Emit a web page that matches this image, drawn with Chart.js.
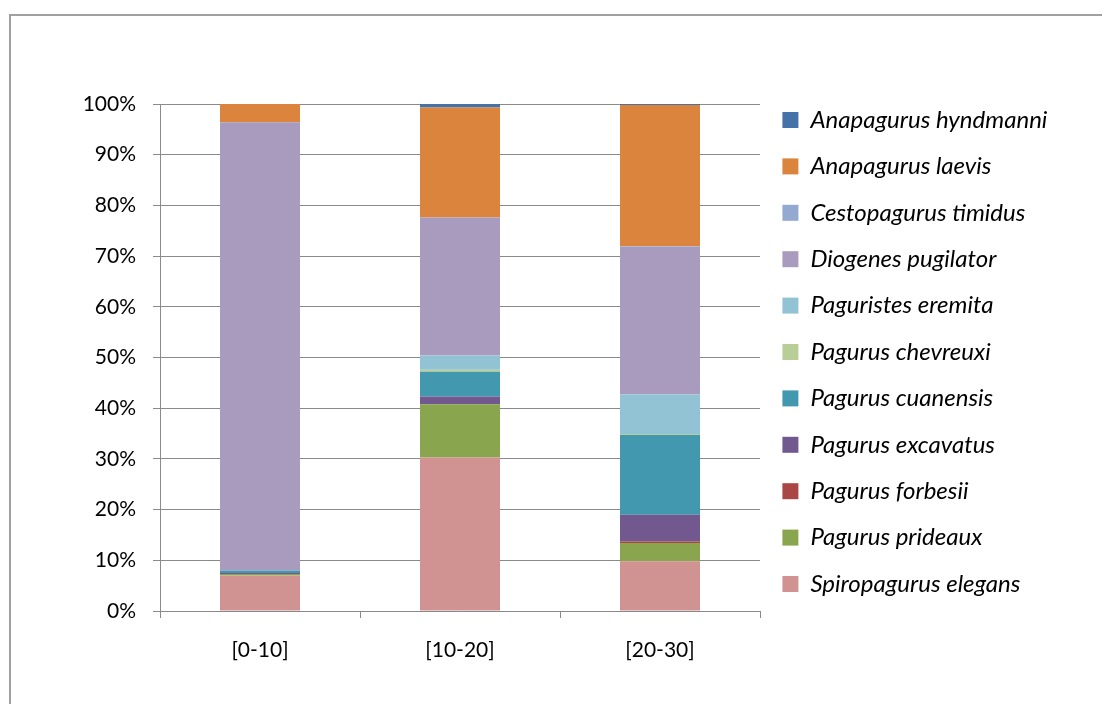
<!DOCTYPE html>
<html>
<head>
<meta charset="utf-8">
<script src="https://cdn.jsdelivr.net/npm/chart.js@4"></script>
<style>
  html, body { margin: 0; padding: 0; background: #fff; overflow: hidden; }
  #wrap { position: relative; width: 1102px; height: 704px; }
  #frame {
    position: absolute; left: 9px; top: 14px; width: 1200px; height: 800px;
    border-left: 2px solid #a0a0a0; border-top: 2px solid #a0a0a0;
    pointer-events: none;
  }
  canvas { position: absolute; left: 0; top: 0; }
</style>
</head>
<body>
<div id="wrap">
  <canvas id="chart" width="1102" height="704"></canvas>
  <div id="frame"></div>
</div>
<script>
// depth classes
const categories = ['[0-10]', '[10-20]', '[20-30]'];

// share of each species per class (%), bottom of stack first
const spiropagurusElegans = [7.0, 30.3, 9.8];
const pagurusPrideaux = [0.3, 10.5, 3.6];
const pagurusForbesii = [0, 0, 0.3];
const pagurusExcavatus = [0.2, 1.5, 5.3];
const pagurusCuanensis = [0.5, 4.9, 15.7];
const pagurusChevreuxi = [0, 0.4, 0.2];
const paguristesEremita = [0, 2.8, 7.8];
const diogenesPugilator = [88.4, 27.2, 29.2];
const cestopagurusTimidus = [0, 0, 0.1];
const anapagurusLaevis = [3.6, 21.7, 27.8];
const anapagurusHyndmanni = [0, 0.7, 0.2];

const yTicks = [0, 10, 20, 30, 40, 50, 60, 70, 80, 90, 100];

const font = 'Lato, "Open Sans", sans-serif';

const series = [
    ['Spiropagurus elegans', spiropagurusElegans, '#d09392'],
    ['Pagurus prideaux', pagurusPrideaux, '#89a54e'],
    ['Pagurus forbesii', pagurusForbesii, '#aa4643'],
    ['Pagurus excavatus', pagurusExcavatus, '#71588f'],
    ['Pagurus cuanensis', pagurusCuanensis, '#4198af'],
    ['Pagurus chevreuxi', pagurusChevreuxi, '#b9cd96'],
    ['Paguristes eremita', paguristesEremita, '#92c3d4'],
    ['Diogenes pugilator', diogenesPugilator, '#a99bbd'],
    ['Cestopagurus timidus', cestopagurusTimidus, '#93a9cf'],
    ['Anapagurus laevis', anapagurusLaevis, '#db843d'],
    ['Anapagurus hyndmanni', anapagurusHyndmanni, '#4572a7']
];

const ctx = document.getElementById('chart').getContext('2d');

const data = {
    labels: categories,
    datasets: series.map(([label, values, color]) => ({
        label: label,
        data: values,
        backgroundColor: color,
        borderWidth: 0,
        categoryPercentage: 1,
        barPercentage: 0.4
    }))
};

// keep the legend column a fixed width so the plot ends where it should
const legendWidth = {
    id: 'legendWidth',
    beforeUpdate(chart) {
        const legend = chart.legend;
        if (legend && !legend._fixedFit) {
            const fit = legend.fit;
            legend.fit = function() {
                fit.call(this);
                this.width = 342;
            };
            legend._fixedFit = true;
        }
    }
};

const chart = new Chart(ctx, {
    type: 'bar',
    data: data,
    plugins: [legendWidth],
    options: {
        responsive: false,
        animation: false,
        layout: {
            padding: { top: 10, left: 10, bottom: 10, right: 0 }
        },
        plugins: {
            tooltip: { enabled: false },
            title: {
                display: true,
                text: '',
                font: { size: 10, lineHeight: 1 },
                padding: { top: 0, bottom: 84 }
            },
            legend: {
                position: 'right',
                reverse: true,
                labels: {
                    boxWidth: 16,
                    boxHeight: 16,
                    padding: 22.4,
                    color: '#000',
                    font: { family: font, size: 24, style: 'italic' }
                }
            }
        },
        scales: {
            x: {
                stacked: true,
                afterFit: scale => { scale.height = 83; },
                grid: {
                    offset: true,
                    drawOnChartArea: false,
                    drawTicks: true,
                    tickLength: 7,
                    color: '#8a8a8a'
                },
                border: { color: '#8a8a8a', width: 1 },
                ticks: {
                    color: '#000',
                    padding: 20,
                    font: { family: font, size: 21 }
                }
            },
            y: {
                stacked: true,
                min: 0,
                max: 100,
                afterFit: scale => { scale.width = 150; },
                afterBuildTicks: scale => { scale.ticks = yTicks.map(v => ({ value: v })); },
                grid: {
                    color: '#8a8a8a',
                    tickLength: 7
                },
                border: { color: '#8a8a8a', width: 1 },
                ticks: {
                    color: '#000',
                    padding: 17,
                    font: { family: font, size: 21 },
                    callback: value => value + '%'
                }
            }
        }
    }
});
</script>
</body>
</html>
